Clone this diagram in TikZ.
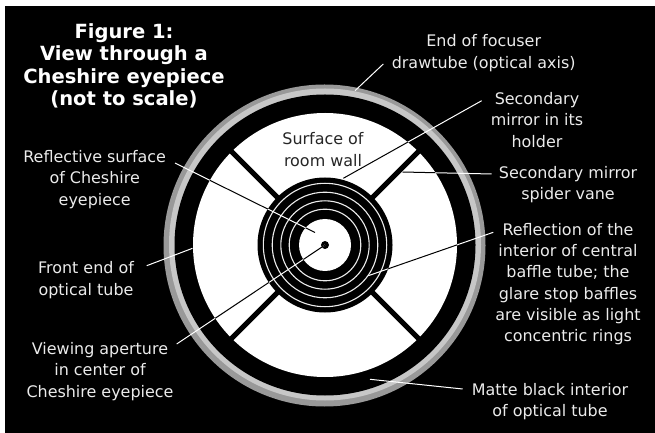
\documentclass[tikz,border=0pt]{standalone}
\usepackage{fontspec}
\setmainfont{DejaVu Sans}
\definecolor{ringdark}{gray}{0.6}
\definecolor{ringlight}{gray}{0.78}
\tikzset{
  x=1bp,y=-1bp,
  lbl/.style={text=white!92!black,align=center,inner sep=0pt,font=\fontsize{16}{21.4}\selectfont},
  titlelbl/.style={text=white,align=center,inner sep=0pt,font=\bfseries\fontsize{19.6}{22.4}\selectfont},
  walllbl/.style={lbl,text=black!85},
  leader/.style={line width=1bp},
  vane/.style={black,line width=5bp},
  baffle/.style={draw=white!93!black,line width=1.1bp}
}
\newcommand{\leaderset}[1]{%
  \draw[leader,#1] (focusA) -- (focusB);
  \draw[leader,#1] (mirrorA) -- (mirrorB);
  \draw[leader,#1] (spiderA) -- (spiderB);
  \draw[leader,#1] (reflA) -- (reflB);
  \draw[leader,#1] (matteA) -- (matteB);
  \draw[leader,#1] (surfA) -- (surfB);
  \draw[leader,#1] (frontA) -- (frontB);
  \draw[leader,#1] (viewA) -- (viewB);
}
\begin{document}
\begin{tikzpicture}
\useasboundingbox (0,0) rectangle (655,433);
\fill[white] (0,0) rectangle (655,433);
\fill[black] (5,6) rectangle (655,433);
\coordinate (c) at (325,245);
% rings of the drawtube
\fill[ringdark] (324.5,245.5) circle[radius=161];
\fill[ringlight] (325,244.5) circle[radius=156];
\fill[black] (c) circle[radius=150.5];
% white field
\fill[white] (c) circle[radius=132];
\draw[vane] (c) -- ++(-95,-95);
\draw[vane] (c) -- ++(95,-95);
\draw[vane] (c) -- ++(-95,95);
\draw[vane] (c) -- ++(95,95);
% central disc
\fill[black] (c) circle[radius=67.5];
\foreach \r in {61.7,52.8,44.2,35.8} \draw[baffle] (c) circle[radius=\r];
\fill[white] (c) circle[radius=26];
\fill[black] (c) circle[radius=4];
% leaders
\coordinate (focusA) at (383.3,64);
\coordinate (focusB) at (355,90.7);
\coordinate (mirrorA) at (481.7,100.7);
\coordinate (mirrorB) at (343.3,178.3);
\coordinate (spiderA) at (491.7,174);
\coordinate (spiderB) at (402.5,172);
\coordinate (reflA) at (493.3,232.3);
\coordinate (reflB) at (368.3,275.7);
\coordinate (matteA) at (462.7,389);
\coordinate (matteB) at (370,379.3);
\coordinate (surfA) at (175,163);
\coordinate (surfB) at (315,232.5);
\coordinate (frontA) at (146.7,265.7);
\coordinate (frontB) at (192.5,248.3);
\coordinate (viewA) at (176.7,344);
\coordinate (viewB) at (c);
\leaderset{white}
\begin{scope}[even odd rule]
\clip (c) circle[radius=132] (c) circle[radius=67.5] (c) circle[radius=26];
\leaderset{black}
\end{scope}
% texts
\node[titlelbl] (title) at (124,66) {Figure 1:\\View through a\\Cheshire eyepiece\\(not to scale)};
\node[walllbl] (wall) at (323,149.5) {Surface of\\room wall};
\node[lbl] (tfocus) at (483.7,53) {End of focuser\\drawtube (optical axis)};
\node[lbl] (tmirror) at (537,120) {Secondary\\mirror in its\\holder};
\node[lbl] (tspider) at (568,184.5) {Secondary mirror\\spider vane};
\node[lbl] (trefl) at (568,284) {Reflection of the\\interior of central\\baffle tube; the\\glare stop baffles\\are visible as light\\concentric rings};
\node[lbl] (tmatte) at (550,401.5) {Matte black interior\\of optical tube};
\node[lbl] (tsurf) at (94.7,179.5) {Reflective surface\\of Cheshire\\eyepiece};
\node[lbl] (tfront) at (86,280) {Front end of\\optical tube};
\node[lbl] (tview) at (100,371.5) {Viewing aperture\\in center of\\Cheshire eyepiece};
\end{tikzpicture}
\end{document}
